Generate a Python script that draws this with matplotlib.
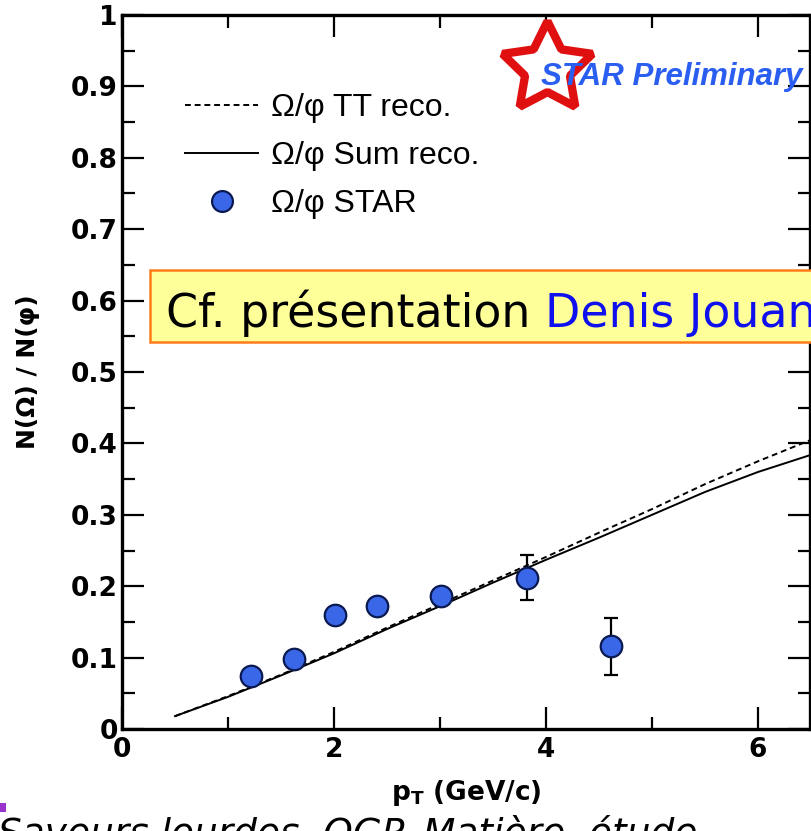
import matplotlib
matplotlib.use("Agg")
import matplotlib.pyplot as plt
from matplotlib.lines import Line2D
from matplotlib.patches import Rectangle

# data
pt_star = [1.22, 1.62, 2.01, 2.41, 3.01, 3.82, 4.61]
ratio_star = [0.074, 0.098, 0.159, 0.172, 0.186, 0.212, 0.116]
err_star = [0.010, 0.010, 0.010, 0.010, 0.010, 0.031, 0.040]

pt_model = [0.5, 1.0, 1.5, 2.0, 2.5, 3.0, 3.5, 4.0, 4.5, 5.0, 5.5, 6.0, 6.5]
sum_reco = [0.018, 0.045, 0.075, 0.106, 0.140, 0.172, 0.205, 0.237, 0.268, 0.300, 0.332, 0.360, 0.384]
tt_reco = [0.018, 0.046, 0.076, 0.108, 0.142, 0.175, 0.208, 0.241, 0.275, 0.308, 0.343, 0.375, 0.405]

yticks = [0, 0.1, 0.2, 0.3, 0.4, 0.5, 0.6, 0.7, 0.8, 0.9, 1]
ytick_labels = ["0", "0.1", "0.2", "0.3", "0.4", "0.5", "0.6", "0.7", "0.8", "0.9", "1"]
xticks = [0, 2, 4, 6]

plt.rcParams['font.family'] = ['Liberation Sans', 'DejaVu Sans']
plt.rcParams['mathtext.fontset'] = 'dejavusans'

W, H = 811, 831
fig = plt.figure(figsize=(W / 100, H / 100), dpi=100)
ax = fig.add_axes([122 / W, 1 - 729 / H, 688 / W, 714 / H])

ax.plot(pt_model, tt_reco, color='black', lw=1.4, ls=(0, (3, 2)))
ax.plot(pt_model, sum_reco, color='black', lw=1.4)
ax.errorbar(pt_star, ratio_star, yerr=err_star, fmt='o', color='black', ecolor='black',
            elinewidth=1.6, capsize=5, capthick=1.6, ms=15.5, mfc='#3a66e8', mec='#0a1a50', mew=1.6,
            zorder=5)

ax.set_xlim(0, 6.49)
ax.set_ylim(0, 1)
ax.set_yticks(yticks)
ax.set_yticklabels(ytick_labels)
ax.set_xticks(xticks)
ax.set_xticks([1, 3, 5], minor=True)
ax.set_yticks([0.05 + 0.1 * i for i in range(10)], minor=True)
ax.tick_params(which='both', direction='in', top=True, right=True, width=1.6)
ax.tick_params(which='major', length=16, labelsize=19, pad=3)
ax.tick_params(axis='x', which='major', pad=6)
ax.tick_params(which='minor', length=9)
for lab in ax.get_xticklabels() + ax.get_yticklabels():
    lab.set_fontweight('bold')
    lab.set_family('DejaVu Sans')
for s in ax.spines.values():
    s.set_linewidth(2.4)

ax.set_ylabel('N(Ω) / N(φ)', fontsize=18, fontweight='bold', family='DejaVu Sans')
ax.yaxis.set_label_coords(-0.119, 0.5)
ax.set_xlabel(r'$\mathbf{p}_\mathbf{T}$ (GeV/c)', fontsize=19, fontweight='bold', family='DejaVu Sans')
ax.xaxis.set_label_coords(0.5, -0.068)

handles = [
    Line2D([], [], color='black', lw=1.4, ls=(0, (3, 2))),
    Line2D([], [], color='black', lw=1.4),
    Line2D([], [], ls='none', marker='o', ms=15, mfc='#3a66e8', mec='#0a1a50', mew=1.6),
]
labels = ['Ω/φ TT reco.', 'Ω/φ Sum reco.', 'Ω/φ STAR']
fig.legend(handles, labels, loc='upper left', bbox_to_anchor=(185 / W, 1 - 93 / H),
           frameon=False, fontsize=23, handlelength=2.3, handletextpad=0.4,
           labelspacing=0.56, borderpad=0, borderaxespad=0)

# STAR Preliminary logo
fig.add_artist(Line2D([547 / W], [1 - 68 / H], marker=(5, 1, 0), ms=68, mfc='white',
                      mec='#e01010', mew=6, transform=fig.transFigure))
fig.text(541 / W, 1 - 77 / H, 'STAR Preliminary', fontsize=22.5, fontweight='bold',
         fontstyle='italic', color='#2a5ef0', va='center', ha='left')

# yellow note box
fig.add_artist(Rectangle((150 / W, 1 - 342 / H), 700 / W, 72 / H, transform=fig.transFigure,
                         facecolor='#ffff99', edgecolor='#ff7a1a', lw=1.8, clip_on=False))
t = fig.text(166 / W, 1 - 327 / H, 'Cf. présentation ', fontsize=33, color='black',
             va='baseline', ha='left', family='DejaVu Sans')
fig.canvas.draw()
bb = t.get_window_extent()
fig.text(bb.x1 / W, 1 - 327 / H, 'Denis Jouan', fontsize=33, color='#1010ee',
         va='baseline', ha='left', family='DejaVu Sans')

# slide leftovers at the bottom
fig.add_artist(Rectangle((0, 1 - 812 / H), 6 / W, 9 / H, transform=fig.transFigure,
                         facecolor='#9933cc', edgecolor='none'))
fig.text(-2 / W, 1 - 845 / H, 'Saveurs lourdes, QGP, Matière, étude', fontsize=27,
         fontstyle='italic', color='black', va='baseline', ha='left', family='DejaVu Sans')

fig.savefig('out.png', dpi=100)
